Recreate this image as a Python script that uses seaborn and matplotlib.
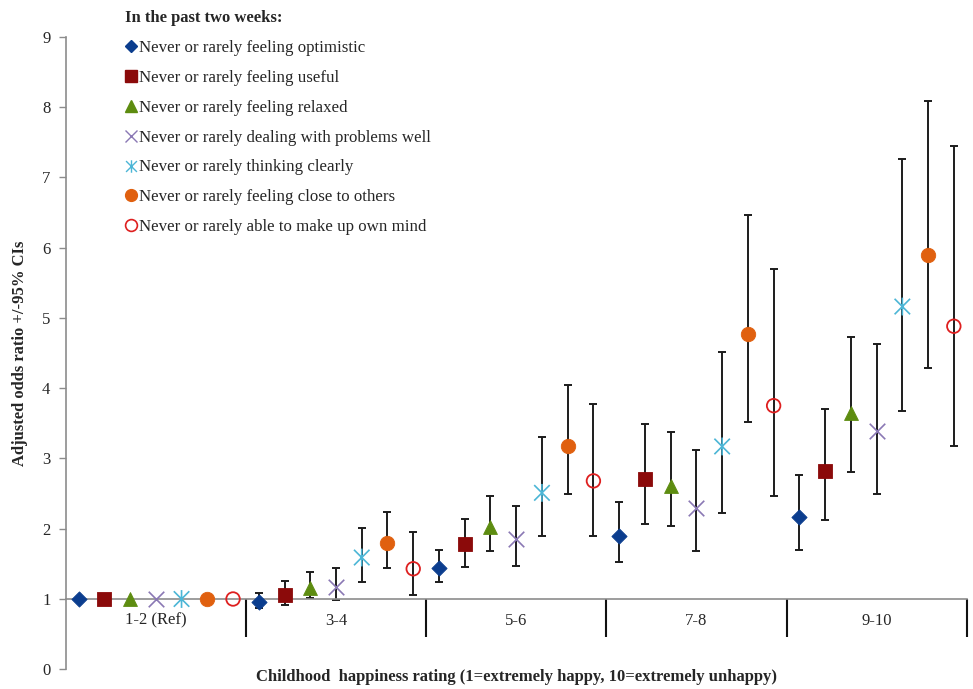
import numpy as np
import pandas as pd
import matplotlib
matplotlib.use("Agg")
import matplotlib.pyplot as plt
import seaborn as sns
from matplotlib.path import Path
from matplotlib.lines import Line2D

# ---------------- data ----------------
categories = ["1-2 (Ref)", "3-4", "5-6", "7-8", "9-10"]
series_names = [
    "Never or rarely feeling optimistic",
    "Never or rarely feeling useful",
    "Never or rarely feeling relaxed",
    "Never or rarely dealing with problems well",
    "Never or rarely thinking clearly",
    "Never or rarely feeling close to others",
    "Never or rarely able to make up own mind",
]
optimistic_or = [1, 0.96, 1.44, 1.90, 2.17]
optimistic_lo = [1, 0.87, 1.24, 1.52, 1.70]
optimistic_hi = [1, 1.09, 1.70, 2.38, 2.76]
useful_or = [1, 1.06, 1.78, 2.70, 2.82]
useful_lo = [1, 0.92, 1.45, 2.07, 2.13]
useful_hi = [1, 1.25, 2.14, 3.49, 3.70]
relaxed_or = [1, 1.15, 2.03, 2.61, 3.64]
relaxed_lo = [1, 1.02, 1.68, 2.04, 2.81]
relaxed_hi = [1, 1.39, 2.46, 3.37, 4.73]
problems_or = [1, 1.17, 1.85, 2.29, 3.39]
problems_lo = [1, 0.99, 1.47, 1.68, 2.49]
problems_hi = [1, 1.44, 2.32, 3.12, 4.63]
clearly_or = [1, 1.59, 2.51, 3.17, 5.16]
clearly_lo = [1, 1.24, 1.90, 2.22, 3.67]
clearly_hi = [1, 2.01, 3.31, 4.52, 7.26]
close_or = [1, 1.80, 3.18, 4.77, 5.89]
close_lo = [1, 1.44, 2.49, 3.52, 4.28]
close_hi = [1, 2.24, 4.05, 6.46, 8.09]
mind_or = [1, 1.43, 2.68, 3.75, 4.88]
mind_lo = [1, 1.05, 1.90, 2.47, 3.18]
mind_hi = [1, 1.96, 3.78, 5.70, 7.45]

ors = [optimistic_or, useful_or, relaxed_or, problems_or, clearly_or, close_or, mind_or]
los = [optimistic_lo, useful_lo, relaxed_lo, problems_lo, clearly_lo, close_lo, mind_lo]
his = [optimistic_hi, useful_hi, relaxed_hi, problems_hi, clearly_hi, close_hi, mind_hi]

rows = []
for si, name in enumerate(series_names):
    for ci, cat in enumerate(categories):
        rows.append(dict(series=name, si=si, category=cat, ci=ci,
                         x=ci + (si - 3) / 7.0,
                         OR=ors[si][ci], lo=los[si][ci], hi=his[si][ci]))
df = pd.DataFrame(rows)

# ---------------- style ----------------
sns.set_style("white")
plt.rcParams["font.family"] = ["Liberation Serif", "DejaVu Serif"]

colors = ["#0b3d8e", "#8b0a0a", "#5d8c10", "#8a78b4", "#4cb6d6", "#e0600f", "#de1f1f"]
asterisk = Path([(-1, -1), (1, 1), (-1, 1), (1, -1), (0, -1.15), (0, 1.15)],
                [Path.MOVETO, Path.LINETO, Path.MOVETO, Path.LINETO, Path.MOVETO, Path.LINETO])
markers = ["D", "s", "^", "x", asterisk, "o", "o"]
sizes = [60, 92, 100, 125, 165, 108, 95]

fig = plt.figure(figsize=(9.73, 6.89), dpi=100)
ax = fig.add_axes([65.7 / 973, (689 - 669.3) / 689, 901 / 973, 632.7 / 689])

# error bars (non-reference categories only)
eb = df[df["hi"] > df["lo"]]
ax.errorbar(eb["x"], eb["OR"], yerr=[eb["OR"] - eb["lo"], eb["hi"] - eb["OR"]],
            fmt="none", ecolor="#1c1c1c", elinewidth=1.4, capsize=3, capthick=1.4, zorder=2)

for si, name in enumerate(series_names):
    sub = df[df["si"] == si]
    if si == 6:
        sns.scatterplot(data=sub, x="x", y="OR", marker="o", s=sizes[si],
                        facecolor="none", edgecolor=colors[si], linewidth=1.3,
                        ax=ax, zorder=3, legend=False)
    elif si == 3:
        sns.scatterplot(data=sub, x="x", y="OR", marker="x", s=sizes[si],
                        color=colors[si], linewidth=1.2, ax=ax, zorder=3, legend=False)
    elif si == 4:
        sns.scatterplot(data=sub, x="x", y="OR", marker=asterisk, s=sizes[si],
                        color=colors[si], edgecolor=colors[si], facecolor="none",
                        linewidth=1.2, ax=ax, zorder=3, legend=False)
    else:
        sns.scatterplot(data=sub, x="x", y="OR", marker=markers[si], s=sizes[si],
                        color=colors[si], edgecolor=colors[si], linewidth=0.6,
                        ax=ax, zorder=3, legend=False)

# axes
ax.set_xlim(-0.5, 4.5)
ax.set_ylim(0, 9)
ax.set_yticks(range(0, 10))
ax.set_yticklabels([str(v) for v in range(0, 10)], fontsize=12)
ax.tick_params(axis="y", left=True, direction="out", length=5, width=1, color="#8c8c8c", pad=6)
for s in ["top", "right"]:
    ax.spines[s].set_visible(False)
ax.spines["left"].set_color("#8c8c8c")
ax.spines["left"].set_linewidth(1.2)
ax.spines["bottom"].set_position(("data", 1))
ax.spines["bottom"].set_color("#8c8c8c")
ax.spines["bottom"].set_linewidth(1.2)

ax.set_xticks(range(len(categories)))
ax.set_xticklabels(categories, fontsize=12)
ax.set_xticks(np.arange(0.5, 5.0, 1.0), minor=True)
ax.tick_params(axis="x", which="major", bottom=True, length=0, pad=10)
ax.tick_params(axis="x", which="minor", bottom=True, direction="out", length=27, width=1.5,
               color="#111111")
ax.set_xlabel("")
ax.set_ylabel("Adjusted odds ratio +/-95% CIs", fontsize=12, fontweight="bold", labelpad=10)
ax.text(0.5, -8 / 632.7, "Childhood  happiness rating (1=extremely happy, 10=extremely unhappy)",
        transform=ax.transAxes, ha="center", va="center", fontsize=12, fontweight="bold")
ax.grid(False)

# legend
handles = []
for si, name in enumerate(series_names):
    if si == 6:
        h = Line2D([], [], linestyle="none", marker="o", markersize=8.5,
                   markerfacecolor="none", markeredgecolor=colors[si], markeredgewidth=1.2)
    elif si in (3, 4):
        h = Line2D([], [], linestyle="none", marker=markers[si], markersize=9,
                   markerfacecolor="none", markeredgecolor=colors[si], markeredgewidth=1.0)
    else:
        ms = {0: 6.5, 1: 8, 2: 8.5, 5: 8.5}[si]
        h = Line2D([], [], linestyle="none", marker=markers[si], markersize=ms,
                   markerfacecolor=colors[si], markeredgecolor=colors[si])
    handles.append(h)
leg = ax.legend(handles, series_names, loc="upper left",
                bbox_to_anchor=(125 / 973, 1 - 10 / 689), bbox_transform=fig.transFigure,
                frameon=False, fontsize=12.2, title="In the past two weeks:",
                title_fontproperties={"weight": "bold", "size": 12},
                alignment="left", handlelength=0.7, handletextpad=0.15,
                labelspacing=0.82, borderpad=0, borderaxespad=0)

fig.savefig("out.png", dpi=100)
